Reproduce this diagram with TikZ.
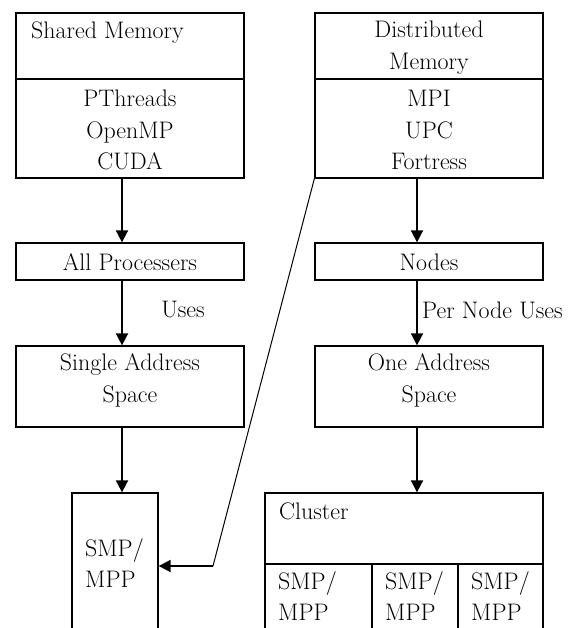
\documentclass[tikz,border=0pt]{standalone}
\usetikzlibrary{arrows.meta}
\begin{document}
\begin{tikzpicture}[x=1bp,y=-1bp,
  box/.style={draw,line width=1.3bp,inner sep=0pt,rectangle},
  txt/.style={inner sep=0pt,font=\fontsize{24}{32}\selectfont,align=center},
  ltxt/.style={inner sep=0pt,font=\fontsize{24}{32}\selectfont,align=left,anchor=west},
  arr/.style={line width=1.8bp,-{Triangle[length=12bp,width=12bp]}},
  thin/.style={line width=1bp}]
\useasboundingbox (0,0) rectangle (576,628);
\clip (0,0) rectangle (576,628);
% column coordinates
\coordinate (colL) at (122,0);
\coordinate (colR) at (417,0);
% Shared memory
\node[box,minimum width=228bp,minimum height=66bp] (smt) at (130,46) {};
\node[ltxt] (smtt) at (31,33) {Shared Memory};
\node[box,minimum width=228bp,minimum height=99bp] (smb) at (130,128.5) {};
\node[txt] (smbt) at (130,130) {PThreads\\OpenMP\\CUDA};
% Distributed memory
\node[box,minimum width=228bp,minimum height=66bp] (dmt) at (429,46) {};
\node[txt] (dmtt) at (429,47.5) {Distributed\\Memory};
\node[box,minimum width=228bp,minimum height=99bp] (dmb) at (429,128.5) {};
\node[txt] (dmbt) at (429,130) {MPI\\UPC\\Fortress};
% second row
\node[box,minimum width=228bp,minimum height=37bp] (ap) at (130,261.5) {};
\node[txt] (apt) at (130,262) {All Processers};
\node[box,minimum width=228bp,minimum height=37bp] (nd) at (429,261.5) {};
\node[txt] (ndt) at (429,262) {Nodes};
% third row
\node[box,minimum width=228bp,minimum height=81bp] (sas) at (130,386.5) {};
\node[txt] (sast) at (130,380) {Single Address\\Space};
\node[box,minimum width=228bp,minimum height=81bp] (oas) at (429,386.5) {};
\node[txt] (oast) at (429,380) {One Address\\Space};
% bottom left SMP
\node[box,minimum width=86bp,minimum height=147bp] (smp) at (115,566.5) {};
\node[ltxt] (smpt) at (85,563) {SMP/\\MPP};
% cluster
\node[box,minimum width=278bp,minimum height=71bp] (cl) at (404,528.5) {};
\node[ltxt] (clt) at (279,511) {Cluster};
\node[box,minimum width=107bp,minimum height=76bp] (c1) at (318.5,602) {};
\node[box,minimum width=86bp,minimum height=76bp] (c2) at (415,602) {};
\node[box,minimum width=85bp,minimum height=76bp] (c3) at (500.5,602) {};
\node[ltxt] (c1t) at (278,596) {SMP/\\MPP};
\node[ltxt] (c2t) at (385,596) {SMP/\\MPP};
\node[ltxt] (c3t) at (471,596) {SMP/\\MPP};
% arrows left
\draw[arr] (smb.south -| colL) -- (ap.north -| colL);
\draw[arr] (ap.south -| colL) -- (sas.north -| colL);
\draw[arr] (sas.south -| colL) -- (smp.north -| colL);
\node[txt] (uses) at (183,310) {Uses};
% arrows right
\draw[arr] (dmb.south -| colR) -- (nd.north -| colR);
\draw[arr] (nd.south -| colR) -- (oas.north -| colR);
\draw[arr] (oas.south -| colR) -- (cl.north -| colR);
\node[ltxt] (pnu) at (422,310) {Per Node Uses};
% diagonal connector
\coordinate (bend) at (213,566);
\draw[thin] (dmb.south west) -- (bend);
\draw[arr] (bend) -- (smp.east |- bend);
\end{tikzpicture}
\end{document}
